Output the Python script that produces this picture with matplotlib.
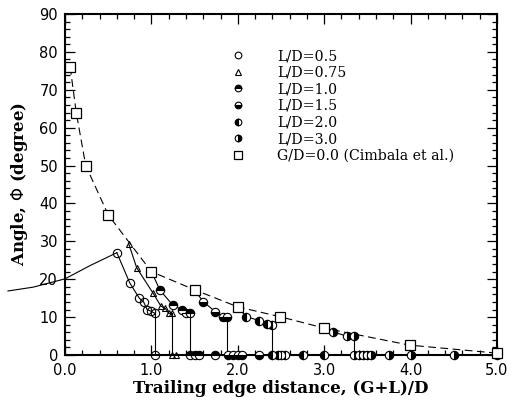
import matplotlib
matplotlib.use("Agg")
import matplotlib.pyplot as plt
from matplotlib.ticker import MultipleLocator, FixedLocator
from matplotlib.lines import Line2D

# ---------------- data ----------------
labels = ["L/D=0.5", "L/D=0.75", "L/D=1.0", "L/D=1.5", "L/D=2.0", "L/D=3.0"]

ld05_x = [0.60, 0.75, 0.86, 0.91, 0.95, 0.99, 1.04]
ld05_y = [27.0, 19.0, 15.0, 14.0, 12.0, 11.6, 11.0]
ld05_zero_x = [1.04]

ld075_x = [0.74, 0.83, 1.02, 1.11, 1.16, 1.20, 1.24]
ld075_y = [29.2, 23.0, 16.3, 12.9, 12.3, 11.0, 11.0]
ld075_zero_x = [1.24, 1.28]

ld10_x = [1.00, 1.10, 1.25, 1.35, 1.40, 1.45]
ld10_y = [22.0, 17.1, 13.1, 12.0, 11.1, 11.1]
ld10_zero_x = [1.45, 1.50, 1.55, 1.74]

ld15_x = [1.50, 1.60, 1.74, 1.83, 1.88]
ld15_y = [17.1, 14.1, 11.4, 10.1, 10.1]
ld15_zero_x = [1.89, 1.95, 2.00, 2.05, 2.24]

ld20_x = [2.00, 2.10, 2.25, 2.34, 2.40]
ld20_y = [12.6, 10.1, 9.1, 8.2, 8.0]
ld20_zero_x = [2.40, 2.46, 2.50, 2.55, 2.75, 3.00]

ld30_x = [3.00, 3.10, 3.26, 3.34]
ld30_y = [7.0, 6.1, 5.0, 5.0]
ld30_zero_x = [3.35, 3.40, 3.45, 3.50, 3.54, 3.75, 4.00, 4.50, 5.00]

cimbala_label = "G/D=0.0 (Cimbala et al.)"
cimbala_x = [0.06, 0.13, 0.24, 0.50, 1.00, 1.50, 2.00, 2.49, 3.00, 3.99, 5.00]
cimbala_y = [76.0, 64.0, 50.0, 37.0, 22.0, 17.2, 12.7, 10.1, 7.1, 2.6, 0.5]

approach_x = [-0.66, -0.37, 0.00, 0.29, 0.60]
approach_y = [16.9, 17.9, 20.1, 23.6, 27.0]

x_ticks = [0.0, 1.0, 2.0, 3.0, 4.0, 5.0]
x_ticklabels = ["0.0", "1.0", "2.0", "3.0", "4.0", "5.0"]
y_ticks = [0, 10, 20, 30, 40, 50, 60, 70, 80, 90]

# ---------------- figure ----------------
fig = plt.figure(figsize=(5.13, 4.03), dpi=100)
ax = fig.add_axes([65 / 513, 1 - 355 / 403, 432 / 513, 341 / 403])

serif = "DejaVu Serif"
ms = 6.0
lw = 0.8

series = [
    (ld05_x, ld05_y, ld05_zero_x, dict(marker="o", fillstyle="none")),
    (ld075_x, ld075_y, ld075_zero_x, dict(marker="^", fillstyle="none", markersize=5)),
    (ld10_x, ld10_y, ld10_zero_x, dict(marker="o", fillstyle="top")),
    (ld15_x, ld15_y, ld15_zero_x, dict(marker="o", fillstyle="bottom")),
    (ld20_x, ld20_y, ld20_zero_x, dict(marker="o", fillstyle="left")),
    (ld30_x, ld30_y, ld30_zero_x, dict(marker="o", fillstyle="right")),
]

handles = []
for (xs, ys, zx, mk), lab in zip(series, labels):
    style = dict(color="black", markerfacecolor="black", markerfacecoloralt="white",
                 markeredgecolor="black", markeredgewidth=0.8, markersize=ms)
    style.update(mk)
    ax.plot(xs, ys, linestyle="-", linewidth=lw, **style)
    # vertical drop to zero
    ax.plot([xs[-1], xs[-1]], [ys[-1], 0], color="black", linewidth=lw)
    ax.plot(zx, [0] * len(zx), linestyle="none", clip_on=False, zorder=5, **style)
    hstyle = dict(style)
    hstyle["markersize"] = style["markersize"] * 0.8
    handles.append(Line2D([], [], linestyle="none", **hstyle))

ax.plot(approach_x, approach_y, color="black", linewidth=lw, clip_on=False)

sq_style = dict(marker="s", markersize=6.5, markerfacecolor="white",
                markeredgecolor="black", markeredgewidth=0.9)
ax.plot(cimbala_x, cimbala_y, color="black", linestyle=(0, (7, 4)),
        linewidth=lw, clip_on=False, zorder=6, **sq_style)
hsq = dict(sq_style)
hsq["markersize"] = 5.5
handles.append(Line2D([], [], linestyle="none", **hsq))

leg = ax.legend(handles, labels + [cimbala_label], loc="upper left",
                bbox_to_anchor=(0.38, 0.913), frameon=False,
                prop={"family": serif, "size": 10.2},
                handlelength=0.5, handletextpad=2.5, labelspacing=0.18,
                borderaxespad=0.0)

ax.set_xlim(0, 5.0)
ax.set_ylim(0, 90)

ax.xaxis.set_major_locator(FixedLocator(x_ticks))
ax.set_xticklabels(x_ticklabels)
ax.xaxis.set_minor_locator(MultipleLocator(0.2))
ax.yaxis.set_major_locator(FixedLocator(y_ticks))
ax.yaxis.set_minor_locator(MultipleLocator(2))

ax.tick_params(which="both", direction="in", top=True, right=True,
               labelsize=10.5, width=0.9)
ax.tick_params(which="major", length=7)
ax.tick_params(which="minor", length=3.5)
ax.tick_params(axis="x", pad=6)
ax.tick_params(axis="y", pad=5)
for lab in ax.get_xticklabels() + ax.get_yticklabels():
    lab.set_family("DejaVu Sans")

for s in ax.spines.values():
    s.set_linewidth(1.5)

ax.set_xlabel("Trailing edge distance, (G+L)/D", family=serif,
              fontweight="bold", fontsize=12, labelpad=1)
ax.set_ylabel("Angle, $\\Phi$ (degree)", family=serif,
              fontweight="bold", fontsize=12, labelpad=7)

fig.savefig("out.png", dpi=100)
